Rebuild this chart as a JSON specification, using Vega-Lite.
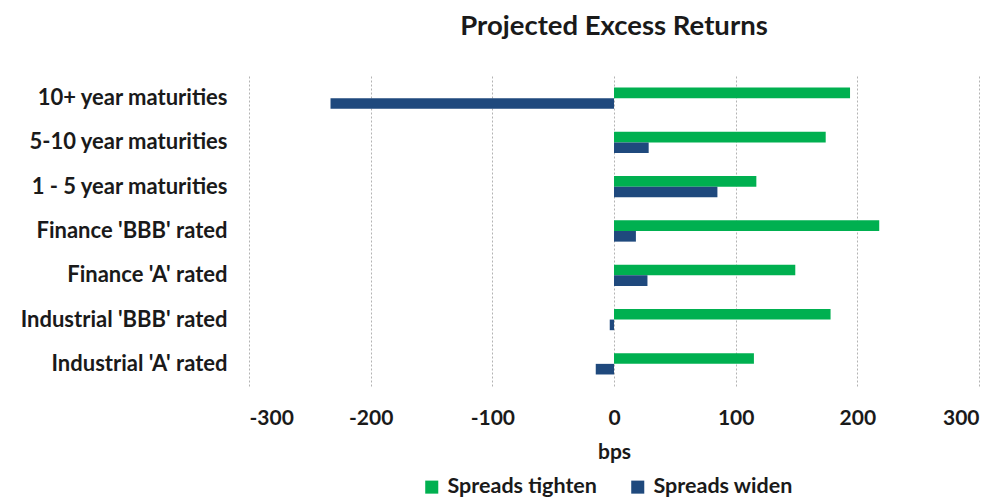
{
  "$schema": "https://vega.github.io/schema/vega-lite/v6.json",
  "width": 730,
  "height": 310,
  "autosize": {"type": "none"},
  "padding": {"left": 249, "top": 76, "right": 23, "bottom": 114},
  "background": "white",
  "title": {
    "text": "Projected Excess Returns",
    "font": "Lato",
    "fontSize": 27.5,
    "fontWeight": "bold",
    "color": "#1a1a1a",
    "anchor": "middle",
    "offset": 36
  },
  "config": {
    "view": {"stroke": null},
    "font": "Lato"
  },
  "data": {
    "values": [
      {"category": "10+ year maturities", "series": "Spreads tighten", "bps": 194},
      {"category": "10+ year maturities", "series": "Spreads widen", "bps": -233},
      {"category": "5-10 year maturities", "series": "Spreads tighten", "bps": 174},
      {"category": "5-10 year maturities", "series": "Spreads widen", "bps": 28.5},
      {"category": "1 - 5 year maturities", "series": "Spreads tighten", "bps": 117},
      {"category": "1 - 5 year maturities", "series": "Spreads widen", "bps": 85},
      {"category": "Finance 'BBB' rated", "series": "Spreads tighten", "bps": 218},
      {"category": "Finance 'BBB' rated", "series": "Spreads widen", "bps": 18},
      {"category": "Finance 'A' rated", "series": "Spreads tighten", "bps": 149},
      {"category": "Finance 'A' rated", "series": "Spreads widen", "bps": 27.5},
      {"category": "Industrial 'BBB' rated", "series": "Spreads tighten", "bps": 178},
      {"category": "Industrial 'BBB' rated", "series": "Spreads widen", "bps": -3.5},
      {"category": "Industrial 'A' rated", "series": "Spreads tighten", "bps": 115},
      {"category": "Industrial 'A' rated", "series": "Spreads widen", "bps": -15}
    ]
  },
  "mark": {"type": "bar"},
  "encoding": {
    "y": {
      "field": "category",
      "type": "nominal",
      "sort": null,
      "scale": {"paddingInner": 0.52, "paddingOuter": 0.26},
      "axis": {
        "title": null,
        "domain": false,
        "ticks": false,
        "labelPadding": 22,
        "labelFont": "Lato",
        "labelFontSize": 22,
        "labelFontWeight": "bold",
        "labelColor": "#1a1a1a",
        "labelLimit": 300
      }
    },
    "yOffset": {
      "field": "series",
      "type": "nominal",
      "sort": ["Spreads tighten", "Spreads widen"],
      "scale": {"paddingInner": 0, "paddingOuter": 0}
    },
    "x": {
      "field": "bps",
      "type": "quantitative",
      "scale": {"domain": [-300, 300], "nice": false},
      "axis": {
        "title": "bps",
        "values": [-300, -200, -100, 0, 100, 200, 300],
        "labelExpr": "'' + datum.value",
        "domain": false,
        "ticks": false,
        "grid": true,
        "gridColor": "#b3b3b3",
        "gridDash": [2, 2],
        "gridWidth": 1,
        "labelPadding": 21,
        "labelFont": "Lato",
        "labelFontSize": 21,
        "labelFontWeight": "bold",
        "labelColor": "#1a1a1a",
        "titleFont": "Lato",
        "titleFontSize": 21,
        "titleFontWeight": "bold",
        "titleColor": "#1a1a1a",
        "titlePadding": 13
      }
    },
    "color": {
      "field": "series",
      "type": "nominal",
      "sort": ["Spreads tighten", "Spreads widen"],
      "scale": {"domain": ["Spreads tighten", "Spreads widen"], "range": ["#00b050", "#1f497d"]},
      "legend": {
        "title": null,
        "orient": "none",
        "legendX": 172,
        "legendY": 400,
        "direction": "horizontal",
        "symbolType": "square",
        "symbolSize": 170,
        "symbolStrokeWidth": 0,
        "labelFont": "Lato",
        "labelFontSize": 21.5,
        "labelFontWeight": "bold",
        "labelColor": "#1a1a1a",
        "columnPadding": 30,
        "labelOffset": 5
      }
    }
  }
}
